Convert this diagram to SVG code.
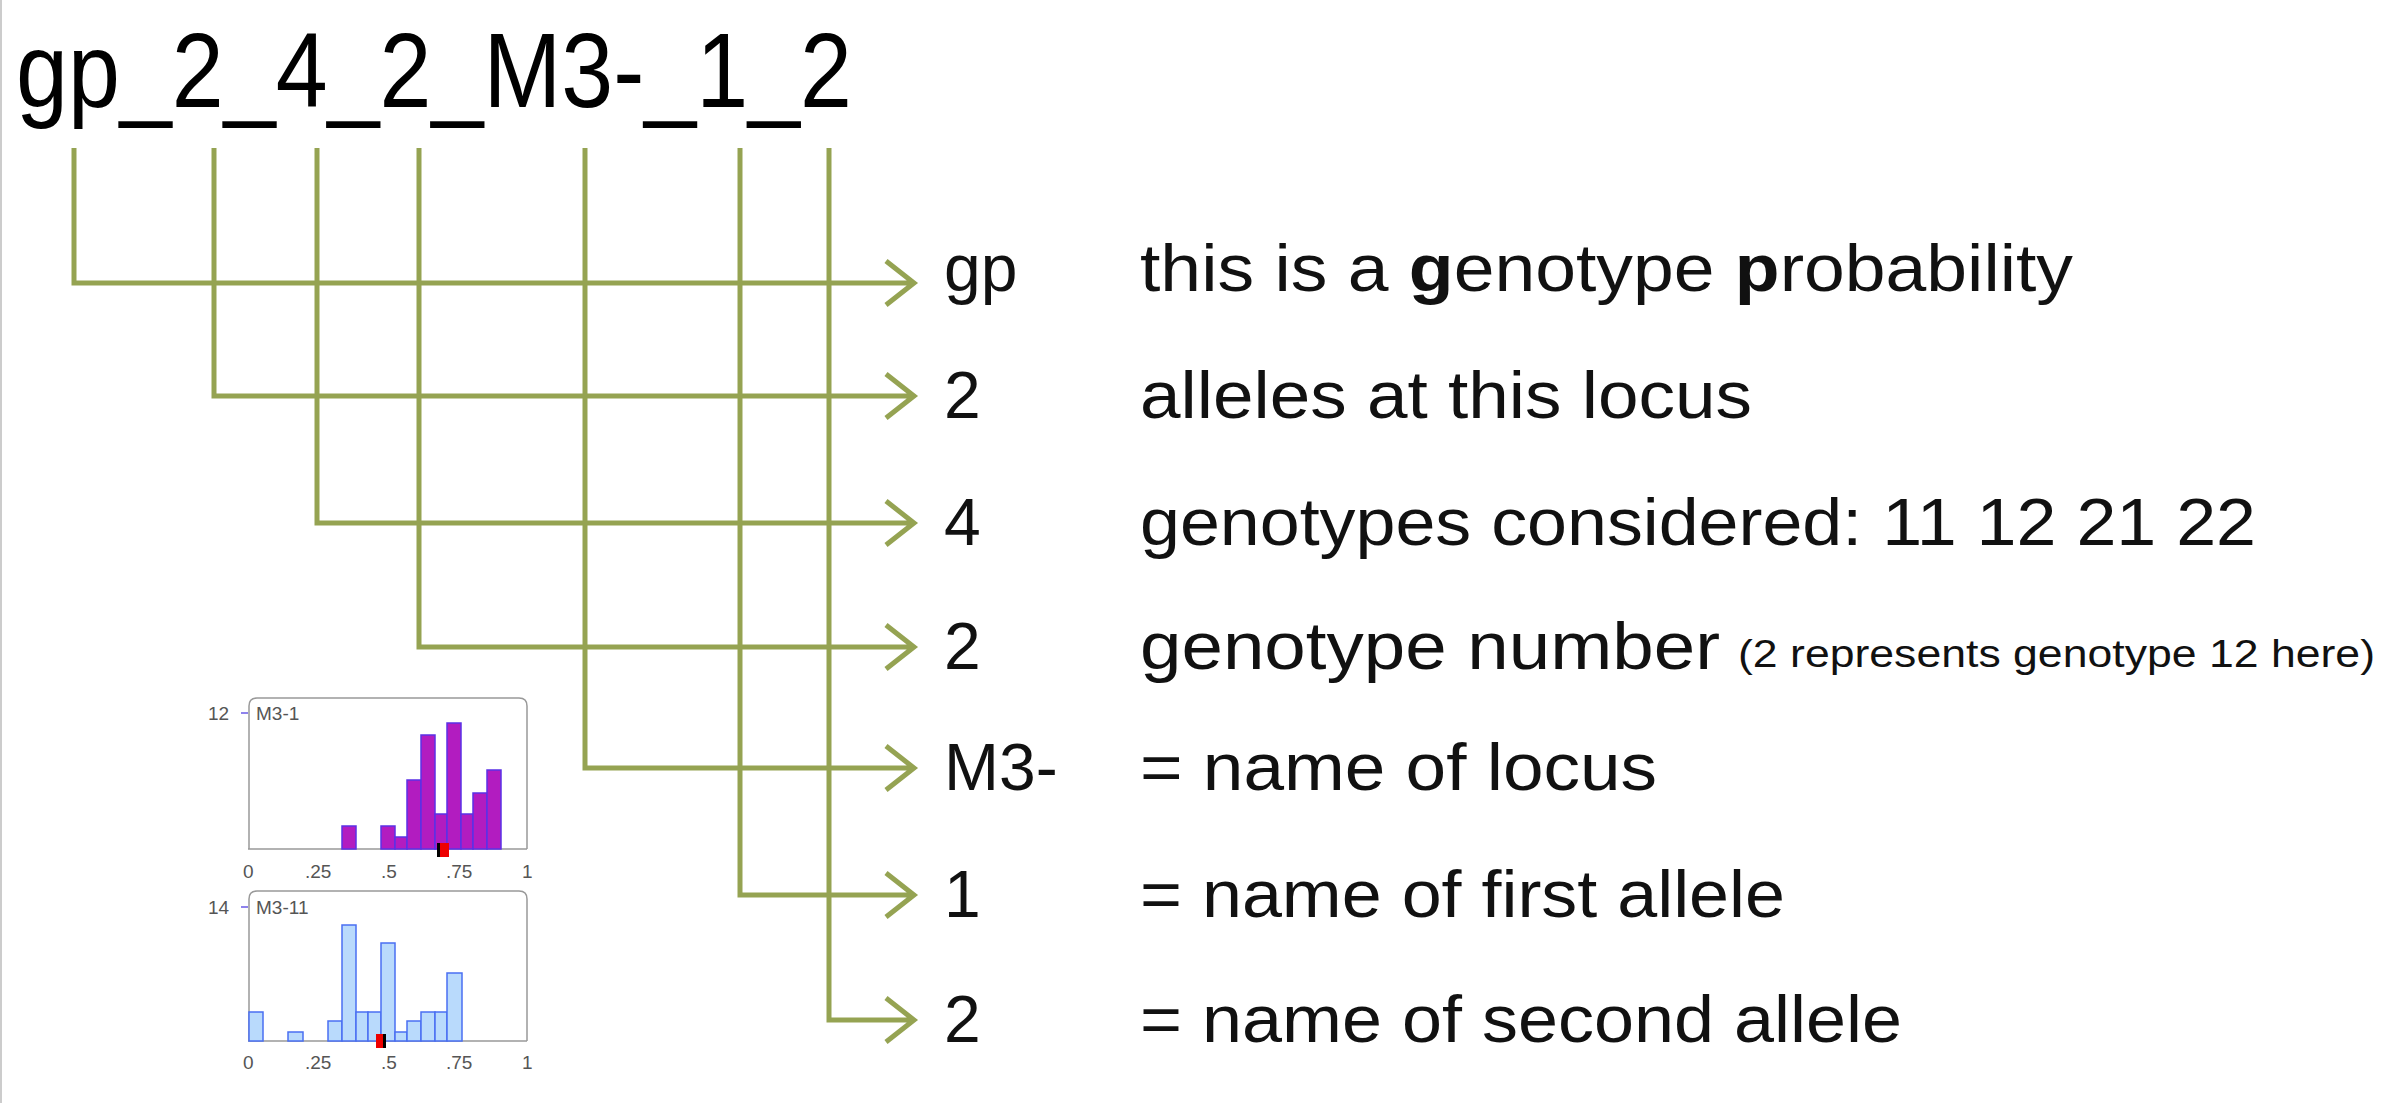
<svg xmlns="http://www.w3.org/2000/svg" width="2399" height="1103" viewBox="0 0 2399 1103">
<style>
.c{fill:none;stroke:#95a352;stroke-width:5;stroke-linejoin:miter}
.t{font-family:"Liberation Sans",Arial,sans-serif;font-size:66px;fill:#111}
.ax{font-family:"Liberation Sans",Arial,sans-serif;font-size:19px;fill:#555}
.pb{fill:#b21cc0;stroke:#5b30e6;stroke-width:1.5}
.bb{fill:#b9dafc;stroke:#4a6ff2;stroke-width:1.5}
.box{fill:none;stroke:#999;stroke-width:1.5}
</style>
<rect width="2399" height="1103" fill="#fff"/>
<line x1="1" y1="0" x2="1" y2="1103" stroke="#ccc" stroke-width="2"/>
<text id="title" x="16" y="107" font-family="'Liberation Sans',Arial,sans-serif" font-size="106" fill="#000" textLength="836" lengthAdjust="spacingAndGlyphs">gp_2_4_2_M3-_1_2</text>
<g id="connectors">
<path class="c" d="M74,148V283H914M886,261L914,283L886,305"/>
<path class="c" d="M214,148V396H914M886,374L914,396L886,418"/>
<path class="c" d="M317,148V523H914M886,501L914,523L886,545"/>
<path class="c" d="M419,148V647H914M886,625L914,647L886,669"/>
<path class="c" d="M585,148V768H914M886,746L914,768L886,790"/>
<path class="c" d="M740,148V895H914M886,873L914,895L886,917"/>
<path class="c" d="M829,148V1020H914M886,998L914,1020L886,1042"/>
</g>
<g id="n1"><text class="t" x="944" y="291">gp</text><text class="t" x="1140" y="291" textLength="933" lengthAdjust="spacingAndGlyphs">this is a <tspan font-weight="bold">g</tspan>enotype <tspan font-weight="bold">p</tspan>robability</text></g>
<g id="n2"><text class="t" x="944" y="418">2</text><text class="t" x="1140" y="418" textLength="612" lengthAdjust="spacingAndGlyphs">alleles at this locus</text></g>
<g id="n3"><text class="t" x="944" y="545">4</text><text class="t" x="1140" y="545" textLength="1116" lengthAdjust="spacingAndGlyphs">genotypes considered:  11  12  21  22</text></g>
<g id="n4"><text class="t" x="944" y="669">2</text><text class="t" x="1140" y="669" textLength="580" lengthAdjust="spacingAndGlyphs">genotype number</text><text x="1738" y="667" font-family="'Liberation Sans',Arial,sans-serif" font-size="38" fill="#111" textLength="637" lengthAdjust="spacingAndGlyphs">(2 represents genotype 12 here)</text></g>
<g id="n5"><text class="t" x="944" y="790">M3-</text><text class="t" x="1140" y="790" textLength="517" lengthAdjust="spacingAndGlyphs">= name of locus</text></g>
<g id="n6"><text class="t" x="944" y="917">1</text><text class="t" x="1140" y="917" textLength="645" lengthAdjust="spacingAndGlyphs">= name of first allele</text></g>
<g id="n7"><text class="t" x="944" y="1042">2</text><text class="t" x="1140" y="1042" textLength="762" lengthAdjust="spacingAndGlyphs">= name of second allele</text></g>
<g id="hist1">
<path class="box" d="M249,849V706Q249,698 257,698H519Q527,698 527,706V849"/>
<line x1="248" y1="849" x2="527" y2="849" stroke="#999" stroke-width="1.5"/>
<line x1="241" y1="713" x2="248" y2="713" stroke="#6a5ae6" stroke-width="1.5"/>
<text class="ax" x="208" y="720">12</text>
<text class="ax" x="256" y="720">M3-1</text>
<rect class="pb" x="342" y="826" width="14" height="23"/>
<rect class="pb" x="381" y="826" width="14" height="23"/>
<rect class="pb" x="395" y="837" width="12" height="12"/>
<rect class="pb" x="407" y="780" width="14" height="69"/>
<rect class="pb" x="421" y="735" width="14" height="114"/>
<rect class="pb" x="435" y="814" width="12" height="35"/>
<rect class="pb" x="447" y="723" width="14" height="126"/>
<rect class="pb" x="461" y="814" width="12" height="35"/>
<rect class="pb" x="473" y="793" width="14" height="56"/>
<rect class="pb" x="487" y="770" width="14" height="79"/>
<rect x="437" y="843" width="12" height="14" fill="#e00"/><rect x="437" y="843" width="3" height="14" fill="#000"/>
<text class="ax" x="243" y="878">0</text><text class="ax" x="305" y="878">.25</text><text class="ax" x="381" y="878">.5</text><text class="ax" x="446" y="878">.75</text><text class="ax" x="522" y="878">1</text>
</g>
<g id="hist2">
<path class="box" d="M249,1041V899Q249,891 257,891H519Q527,891 527,899V1041"/>
<line x1="248" y1="1041" x2="527" y2="1041" stroke="#999" stroke-width="1.5"/>
<line x1="241" y1="907" x2="248" y2="907" stroke="#6a5ae6" stroke-width="1.5"/>
<text class="ax" x="208" y="914">14</text>
<text class="ax" x="256" y="914">M3-11</text>
<rect class="bb" x="249" y="1012" width="14" height="29"/>
<rect class="bb" x="288" y="1032" width="15" height="9"/>
<rect class="bb" x="328" y="1021" width="14" height="20"/>
<rect class="bb" x="342" y="925" width="14" height="116"/>
<rect class="bb" x="356" y="1012" width="12" height="29"/>
<rect class="bb" x="368" y="1012" width="13" height="29"/>
<rect class="bb" x="381" y="943" width="14" height="98"/>
<rect class="bb" x="395" y="1032" width="12" height="9"/>
<rect class="bb" x="407" y="1021" width="14" height="20"/>
<rect class="bb" x="421" y="1012" width="14" height="29"/>
<rect class="bb" x="435" y="1012" width="12" height="29"/>
<rect class="bb" x="447" y="973" width="15" height="68"/>
<rect x="376" y="1034" width="10" height="14" fill="#e00"/><rect x="383" y="1034" width="3" height="14" fill="#000"/>
<text class="ax" x="243" y="1069">0</text><text class="ax" x="305" y="1069">.25</text><text class="ax" x="381" y="1069">.5</text><text class="ax" x="446" y="1069">.75</text><text class="ax" x="522" y="1069">1</text>
</g>
</svg>
